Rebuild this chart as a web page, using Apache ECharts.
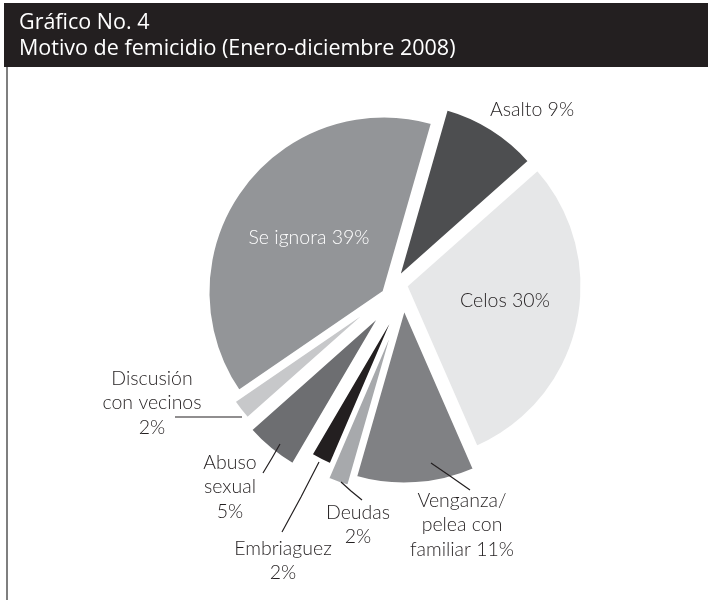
<!DOCTYPE html>
<html>
<head>
<meta charset="utf-8">
<script src="https://cdn.jsdelivr.net/npm/echarts@6/dist/echarts.min.js"></script>
<style>
html,body{margin:0;padding:0;background:#fff;}
#chart{width:708px;height:600px;}
</style>
</head>
<body>
<div id="chart"></div>
<script>
// ---- data ----
const categories = ['Asalto', 'Celos', 'Venganza/pelea con familiar', 'Deudas', 'Embriaguez', 'Abuso sexual', 'Discusión con vecinos', 'Se ignora'];
const values = [9, 30, 11, 2, 2, 5, 2, 39];
const labelTexts = ['Asalto 9%', 'Celos 30%', 'Venganza/\npelea con\nfamiliar 11%', 'Deudas\n2%', 'Embriaguez\n2%', 'Abuso\nsexual\n5%', 'Discusión\ncon vecinos\n2%', 'Se ignora 39%'];
const titleLines = ['Gráfico No. 4', 'Motivo de femicidio (Enero-diciembre 2008)'];

// ---- styles ----
const colors = ['#4d4e50', '#e6e7e8', '#808184', '#a7a9ac', '#231f20', '#6d6e71', '#c7c8ca', '#939598'];
// each slice is pulled apart from the others: its own pie centre
const sliceCenters = [[398, 278], [406, 286], [404, 308], [397, 317], [400, 303], [382, 313], [379, 302], [384, 292]];
const inside = [false, true, false, false, false, false, false, true];
const textColor = ['#231f20', '#231f20', '#231f20', '#231f20', '#231f20', '#231f20', '#231f20', '#ffffff'];
const showLine = [false, false, true, true, true, true, true, false];
const labelPos = [
  {x: 532, y: 110, v: 'middle'},
  {x: 505, y: 301, v: 'middle'},
  {x: 462, y: 488, v: 'top'},
  {x: 358, y: 500, v: 'top'},
  {x: 283, y: 536, v: 'top'},
  {x: 230, y: 450, v: 'top'},
  {x: 152, y: 366, v: 'top'},
  {x: 309, y: 238, v: 'middle'}
];
// leader-line paths (annotation layout, from slice to text)
const leaderPaths = [
  null,
  null,
  [[431, 463], [450, 476], [470, 490]],
  [[341, 482], [351, 491], [362, 500]],
  [[319, 462], [301, 497], [282, 532]],
  [[280, 444], [272, 458], [263, 473]],
  [[242, 417], [208, 417], [175, 417]],
  null
];
const FONT = "'Lato Light', Lato, sans-serif";
const LABEL_CENTER = [396, 296];
const RADIUS = 176;

const chart = echarts.init(document.getElementById('chart'), null, {renderer: 'canvas'});

// one series per slice so each slice can be placed on its own
const sliceSeries = categories.map((cat, i) => ({
  type: 'pie',
  radius: RADIUS,
  center: sliceCenters[i],
  startAngle: 74,
  clockwise: true,
  silent: true,
  animation: false,
  z: 2,
  label: {show: false},
  labelLine: {show: false},
  data: values.map((v, j) => ({
    value: v,
    name: categories[j],
    itemStyle: j === i
      ? {color: colors[j], borderColor: '#ffffff', borderWidth: 3}
      : {color: 'rgba(0,0,0,0)', borderWidth: 0}
  }))
}));

// label-only series (transparent slices) carrying all the texts and leader lines
const labelSeries = {
  type: 'pie',
  radius: RADIUS,
  center: LABEL_CENTER,
  startAngle: 74,
  clockwise: true,
  avoidLabelOverlap: false,
  silent: true,
  animation: false,
  z: 5,
  itemStyle: {color: 'rgba(0,0,0,0)', borderWidth: 0},
  labelLayout: function (p) {
    const lp = labelPos[p.dataIndex];
    const o = {x: lp.x, y: lp.y, align: 'center', verticalAlign: lp.v};
    if (leaderPaths[p.dataIndex]) o.labelLinePoints = leaderPaths[p.dataIndex];
    return o;
  },
  data: values.map((v, j) => ({
    value: v,
    name: categories[j],
    label: {
      show: true,
      position: inside[j] ? 'inside' : 'outside',
      formatter: labelTexts[j],
      fontFamily: FONT,
      fontWeight: 300,
      fontSize: 19.5,
      lineHeight: 24.5,
      color: textColor[j],
      align: 'center'
    },
    labelLine: {
      show: showLine[j],
      length: 0,
      length2: 0,
      lineStyle: {color: '#231f20', width: 1.2}
    }
  }))
};

chart.setOption({
  backgroundColor: '#ffffff',
  animation: false,
  graphic: [
    {type: 'rect', shape: {x: 4, y: 3, width: 704, height: 64}, style: {fill: '#231f20'}, z: 10},
    {type: 'line', shape: {x1: 7, y1: 67, x2: 7, y2: 600}, style: {stroke: '#555555', lineWidth: 1.5}, z: 10},
    {type: 'text', left: 19, top: 12, style: {text: titleLines[0], fill: '#ffffff', font: '21.5px "Open Sans"'}, z: 11},
    {type: 'text', left: 19, top: 38, style: {text: titleLines[1], fill: '#ffffff', font: '21.5px "Open Sans"'}, z: 11}
  ],
  series: sliceSeries.concat([labelSeries])
});
</script>
</body>
</html>
